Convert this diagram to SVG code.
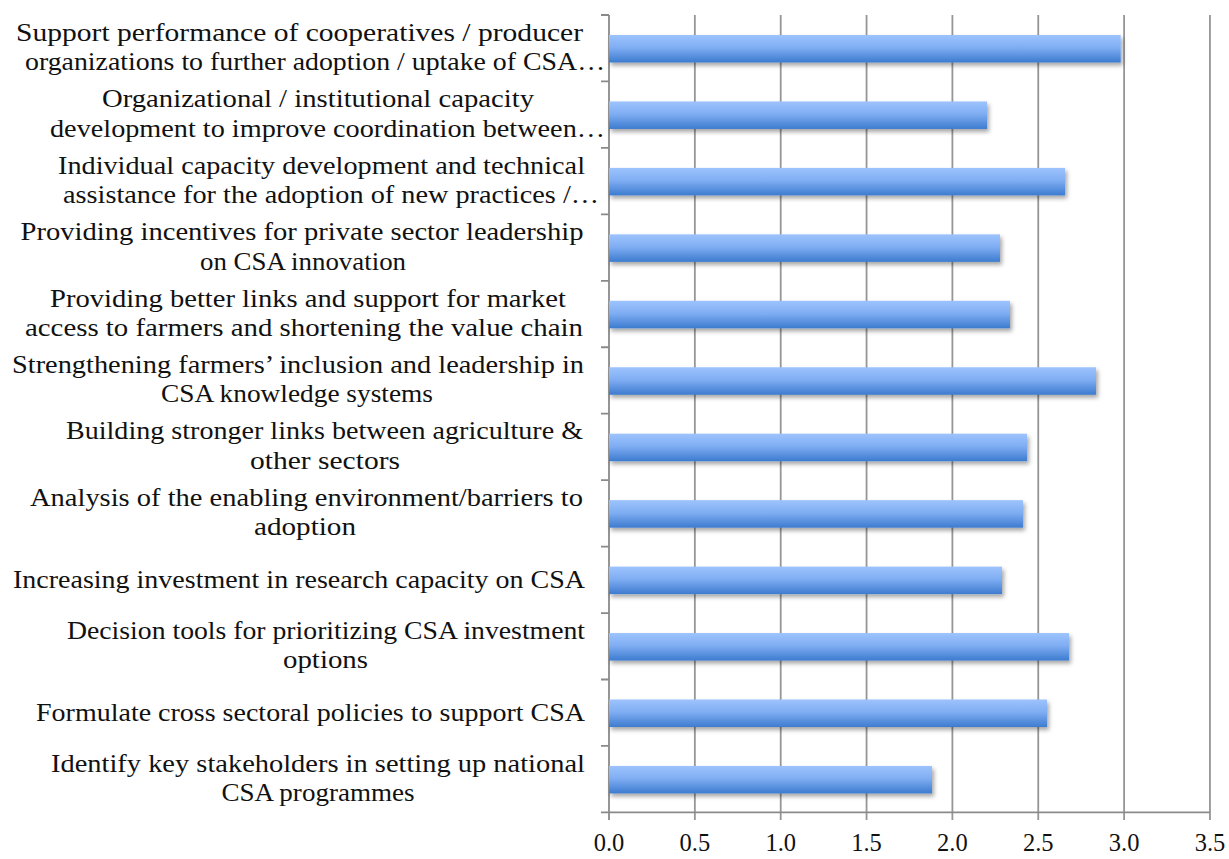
<svg xmlns="http://www.w3.org/2000/svg" width="1229" height="859" viewBox="0 0 1229 859">
<defs>
<linearGradient id="barGrad" x1="0" y1="0" x2="0" y2="1">
<stop offset="0" stop-color="#9dc3fd"/>
<stop offset="0.45" stop-color="#80aef3"/>
<stop offset="1" stop-color="#3d7bcf"/>
</linearGradient>
<filter id="shadow" x="-5%" y="-30%" width="115%" height="180%">
<feDropShadow dx="2" dy="3" stdDeviation="2.2" flood-color="#000" flood-opacity="0.35"/>
</filter>
</defs>
<style>
.lbl{font-family:"Liberation Serif","DejaVu Serif",serif;font-size:24.5px;fill:#111111;text-anchor:middle}
.tick{font-family:"Liberation Serif","DejaVu Serif",serif;font-size:24.5px;fill:#111111;text-anchor:middle}
.grid{stroke:#969696;stroke-width:1.8;fill:none}
.axis{stroke:#8a8a8a;stroke-width:1.8;fill:none}
.bar{fill:url(#barGrad);filter:url(#shadow)}
</style>
<rect width="1229" height="859" fill="#ffffff"/>
<g id="axes">
<path class="grid" d="M694.85 15V820M780.7 15V820M866.55 15V820M952.4 15V820M1038.25 15V820M1124.1 15V820M1209.95 15V820"/>
<path class="axis" d="M609 15V820M601 812.4H1210"/>
<path class="axis" d="M601 15H609M601 81.45H609M601 147.9H609M601 214.35H609M601 280.8H609M601 347.25H609M601 413.7H609M601 480.15H609M601 546.6H609M601 613.05H609M601 679.5H609M601 745.95H609"/>
<text class="tick" x="609" y="851">0.0</text>
<text class="tick" x="694.85" y="851">0.5</text>
<text class="tick" x="780.7" y="851">1.0</text>
<text class="tick" x="866.55" y="851">1.5</text>
<text class="tick" x="952.4" y="851">2.0</text>
<text class="tick" x="1038.25" y="851">2.5</text>
<text class="tick" x="1124.1" y="851">3.0</text>
<text class="tick" x="1209.95" y="851">3.5</text>
</g>
<g id="cat1">
<rect class="bar" x="609" y="35" width="511.7" height="27.5"/>
<text class="lbl" x="299.5" y="40.7" textLength="567" lengthAdjust="spacingAndGlyphs">Support performance of cooperatives / producer</text>
<text class="lbl" x="315" y="70.2" textLength="580" lengthAdjust="spacingAndGlyphs">organizations to further adoption / uptake of CSA…</text>
</g>
<g id="cat2">
<rect class="bar" x="609" y="101.45" width="378" height="27.5"/>
<text class="lbl" x="318" y="107.15" textLength="432" lengthAdjust="spacingAndGlyphs">Organizational / institutional capacity</text>
<text class="lbl" x="327.5" y="136.65" textLength="555" lengthAdjust="spacingAndGlyphs">development to improve coordination between…</text>
</g>
<g id="cat3">
<rect class="bar" x="609" y="167.9" width="456" height="27.5"/>
<text class="lbl" x="321.5" y="173.6" textLength="527" lengthAdjust="spacingAndGlyphs">Individual capacity development and technical</text>
<text class="lbl" x="331" y="203.1" textLength="536" lengthAdjust="spacingAndGlyphs">assistance for the adoption of new practices /…</text>
</g>
<g id="cat4">
<rect class="bar" x="609" y="234.35" width="391" height="27.5"/>
<text class="lbl" x="302" y="240.05" textLength="563" lengthAdjust="spacingAndGlyphs">Providing incentives for private sector leadership</text>
<text class="lbl" x="303" y="269.55" textLength="206" lengthAdjust="spacingAndGlyphs">on CSA innovation</text>
</g>
<g id="cat5">
<rect class="bar" x="609" y="300.8" width="401" height="27.5"/>
<text class="lbl" x="308" y="306.5" textLength="516" lengthAdjust="spacingAndGlyphs">Providing better links and support for market</text>
<text class="lbl" x="304" y="336" textLength="558" lengthAdjust="spacingAndGlyphs">access to farmers and shortening the value chain</text>
</g>
<g id="cat6">
<rect class="bar" x="609" y="367.25" width="487" height="27.5"/>
<text class="lbl" x="298" y="372.95" textLength="572" lengthAdjust="spacingAndGlyphs">Strengthening farmers’ inclusion and leadership in</text>
<text class="lbl" x="297" y="402.45" textLength="272" lengthAdjust="spacingAndGlyphs">CSA knowledge systems</text>
</g>
<g id="cat7">
<rect class="bar" x="609" y="433.7" width="418" height="27.5"/>
<text class="lbl" x="324.5" y="439.4" textLength="517" lengthAdjust="spacingAndGlyphs">Building stronger links between agriculture &amp;</text>
<text class="lbl" x="325" y="468.9" textLength="150" lengthAdjust="spacingAndGlyphs">other sectors</text>
</g>
<g id="cat8">
<rect class="bar" x="609" y="500.15" width="414" height="27.5"/>
<text class="lbl" x="306.5" y="505.85" textLength="553" lengthAdjust="spacingAndGlyphs">Analysis of the enabling environment/barriers to</text>
<text class="lbl" x="305" y="535.35" textLength="102" lengthAdjust="spacingAndGlyphs">adoption</text>
</g>
<g id="cat9">
<rect class="bar" x="609" y="566.6" width="393" height="27.5"/>
<text class="lbl" x="299" y="588.3" textLength="572" lengthAdjust="spacingAndGlyphs">Increasing investment in research capacity on CSA</text>
</g>
<g id="cat10">
<rect class="bar" x="609" y="633.05" width="460" height="27.5"/>
<text class="lbl" x="326" y="638.75" textLength="518" lengthAdjust="spacingAndGlyphs">Decision tools for prioritizing CSA investment</text>
<text class="lbl" x="325.5" y="668.25" textLength="85" lengthAdjust="spacingAndGlyphs">options</text>
</g>
<g id="cat11">
<rect class="bar" x="609" y="699.5" width="438" height="27.5"/>
<text class="lbl" x="310.5" y="721.2" textLength="549" lengthAdjust="spacingAndGlyphs">Formulate cross sectoral policies to support CSA</text>
</g>
<g id="cat12">
<rect class="bar" x="609" y="765.95" width="323" height="27.5"/>
<text class="lbl" x="318" y="771.65" textLength="534" lengthAdjust="spacingAndGlyphs">Identify key stakeholders in setting up national</text>
<text class="lbl" x="318" y="801.15" textLength="193" lengthAdjust="spacingAndGlyphs">CSA programmes</text>
</g>
<g id="connectors"/>
</svg>
